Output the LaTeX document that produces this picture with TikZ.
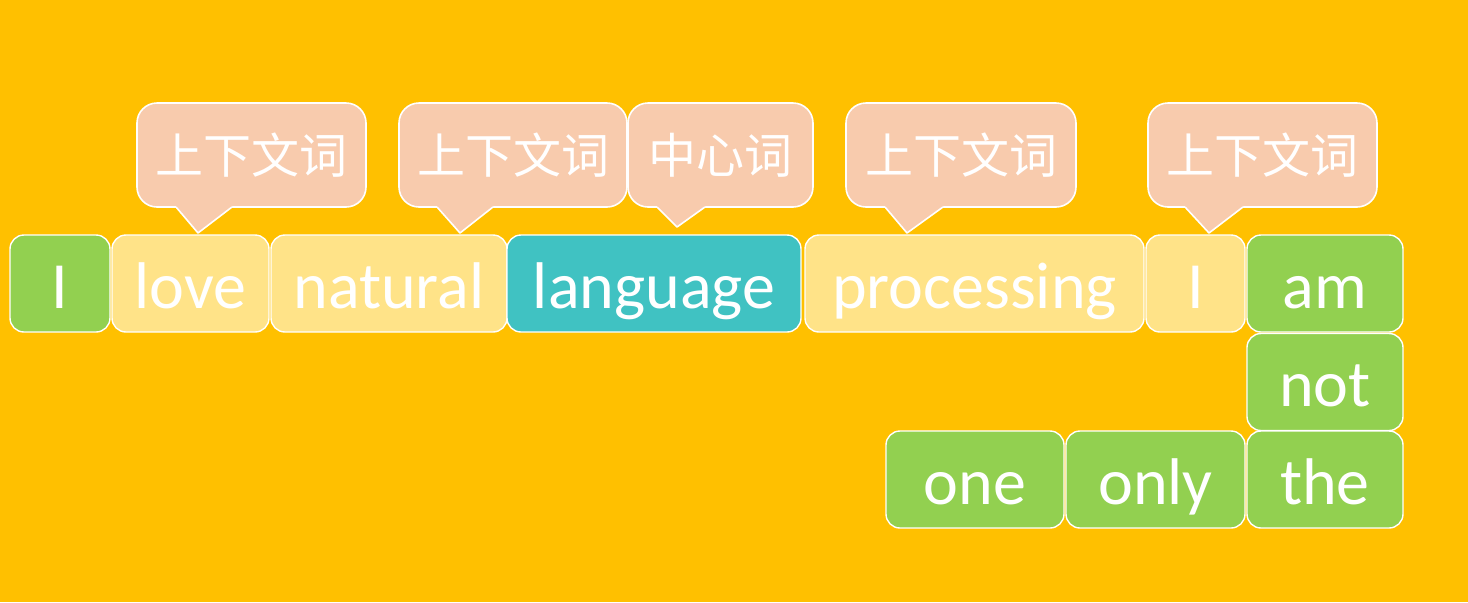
\documentclass[tikz,border=0pt]{standalone}
\usepackage{fontspec}
\setmainfont{Carlito}
\newfontfamily\cjk{Noto Sans CJK SC}
\usepackage{xcolor}
\usepackage{tikz}
\usetikzlibrary{positioning}
\definecolor{bggold}{HTML}{FFC000}
\definecolor{wgreen}{HTML}{92D050}
\definecolor{wyellow}{HTML}{FFE388}
\definecolor{wteal}{HTML}{40C2C2}
\definecolor{csalmon}{HTML}{F8CBAD}
% pointer of a callout: left base x, tip x, tip y, right base x
\newcommand{\calltip}[4]{%
  \fill[csalmon] (#1,207) -- (#2,#3) -- (#4,207) -- (#4,203) -- (#1,203) -- cycle;
  \draw[white, line width=0.8pt, line join=round] (#1,207) -- (#2,#3) -- (#4,207);}

\begin{document}
\begin{tikzpicture}[
  x=0.5pt, y=-0.5pt,
  word/.style={
    rectangle, rounded corners=7pt,
    draw=white, line width=0.7pt, fill=#1,
    inner sep=0pt, minimum height=48.5pt,
    text=white, font=\fontsize{33}{36}\selectfont,
    text height=26pt, text depth=1.5pt
  },
  callout/.style={
    rectangle, rounded corners=10pt,
    draw=white, line width=0.8pt, fill=csalmon,
    inner sep=0pt, minimum width=#1, minimum height=52pt,
    text=white, font=\cjk\fontsize{24}{28}\selectfont
  }
]
\useasboundingbox (0,0) rectangle (1468,602);
\fill[bggold] (0,0) rectangle (1468,602);

% Sentence, first row
\node[word=wgreen,  minimum width=50pt]   (i1)   at (60,283.5)   {I};
\node[word=wyellow, minimum width=78.5pt] (love) at (190.5,283.5) {love};
\node[word=wyellow, minimum width=118pt]  (nat)  at (389,283.5)  {natural};
\node[word=wteal,   minimum width=147pt]  (lang) at (654,283.5)  {language};
\node[word=wyellow, minimum width=169.5pt] (proc) at (974.5,283.5) {processing};
\node[word=wyellow, minimum width=49.5pt] (i2)   at (1195.5,283.5) {I};
\node[word=wgreen,  minimum width=78pt]   (am)   at (1325,283.5) {am};

% Sentence, wrapped part
\node[word=wgreen,  minimum width=78pt]   (not)  at (1325,382)   {not};
\node[word=wgreen,  minimum width=78pt]   (the)  at (1325,479.5) {the};
\node[word=wgreen,  minimum width=89.5pt] (only) at (1155.5,479.5) {only};
\node[word=wgreen,  minimum width=89pt]   (one)  at (975,479.5)  {one};

% Callouts
\node[callout=114.5pt] (c1) at (251.5,155) {上下文词};
\calltip{176}{198}{233}{232}
\node[callout=114pt]   (c2) at (513,155)   {上下文词};
\calltip{437}{460}{233}{493}
\node[callout=92.5pt]  (c3) at (720.5,155) {中心词};
\calltip{657}{677}{227}{705}
\node[callout=115pt]   (c4) at (961,155)   {上下文词};
\calltip{885}{907}{233}{943}
\node[callout=114.5pt] (c5) at (1262.5,155) {上下文词};
\calltip{1185}{1209}{233}{1243}

\end{tikzpicture}
\end{document}
